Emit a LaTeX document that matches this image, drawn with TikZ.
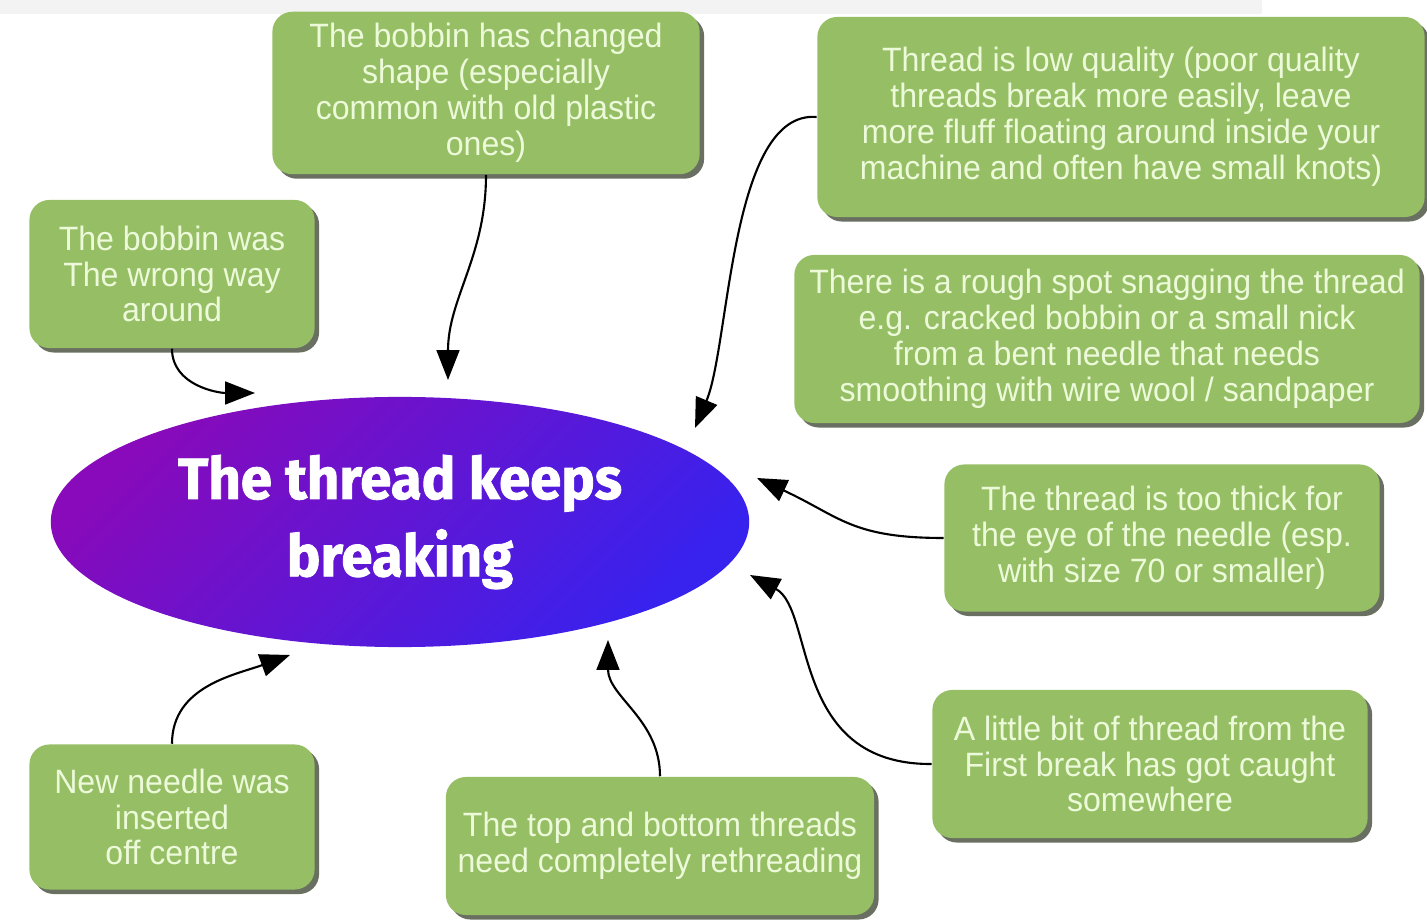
\documentclass[tikz,border=0pt]{standalone}
\usepackage{fontspec}
\setmainfont{Liberation Sans}
\newfontfamily\boxfont[FakeStretch=0.95]{Liberation Sans}
\newfontfamily\hubfont[FakeStretch=0.97,BoldFeatures={FakeStretch=0.97,FakeBold=1.5}]{Fira Sans}
\usetikzlibrary{arrows.meta,shadows,shapes.geometric}
\definecolor{boxgreen}{RGB}{150,190,100}
\definecolor{boxtext}{RGB}{236,250,218}
\definecolor{shadowgray}{RGB}{105,112,98}
\definecolor{bandgray}{RGB}{243,243,243}
\definecolor{hubpurple}{RGB}{136,10,186}
\definecolor{hubblue}{RGB}{56,34,238}
\begin{document}
\begin{tikzpicture}[x=0.01cm,y=-0.01cm,
    cause/.style={fill=boxgreen, rounded corners=0.2cm, align=center, text=boxtext,
      font=\boxfont\fontsize{9.6}{10.2}\selectfont,
      drop shadow={shadow xshift=0.045cm, shadow yshift=-0.045cm, fill=shadowgray, opacity=1}},
    link/.style={-{Triangle[length=8.5pt,width=6.5pt]}, line width=0.6pt}]
    \useasboundingbox (0,0) rectangle (1427,922);
    \fill[bandgray] (0,0) rectangle (1262,14);

    \node[ellipse, minimum width=6.98cm, minimum height=2.5cm, top color=hubpurple, bottom color=hubblue, shading angle=45,
      text=white, align=center, font=\hubfont\bfseries\fontsize{16.5}{22}\selectfont] (hub) at (400,522) {The thread keeps\\breaking};

    \node[cause, minimum width=4.27cm, minimum height=1.58cm] (shape) at (486,93) {The bobbin has changed\\shape (especially\\common with old plastic\\ones)};
    \node[cause, minimum width=2.85cm, minimum height=1.48cm] (wrongway) at (172,274) {The bobbin was\\The wrong way\\around};
    \node[cause, minimum width=6.07cm, minimum height=2cm] (lowq) at (1121,117) {Thread is low quality (poor quality\\threads break more easily, leave\\more fluff floating around inside your\\machine and often have small knots)};
    \node[cause, minimum width=6.25cm, minimum height=1.68cm] (rough) at (1107,339) {There is a rough spot snagging the thread\\e.g. cracked bobbin or a small nick\\from a bent needle that needs\\smoothing with wire wool / sandpaper};
    \node[cause, minimum width=4.35cm, minimum height=1.47cm] (thick) at (1162,538) {The thread is too thick for\\the eye of the needle (esp.\\with size 70 or smaller)};
    \node[cause, minimum width=4.35cm, minimum height=1.48cm] (bit) at (1150,764) {A little bit of thread from the\\First break has got caught\\somewhere};
    \node[cause, minimum width=4.26cm, minimum height=1.38cm] (rethread) at (660,846) {The top and bottom threads\\need completely rethreading};
    \node[cause, minimum width=2.85cm, minimum height=1.45cm] (needle) at (172,817) {New needle was\\inserted\\off centre};

    \coordinate (t1) at (255,393);
    \coordinate (t2) at (448,380);
    \coordinate (t3) at (695,428);
    \coordinate (t4) at (757,478);
    \coordinate (t5) at (750,575);
    \coordinate (t6) at (608,640);
    \coordinate (t7) at (290,655);

    \draw[link] (wrongway.south) to[out=-90,in=180] (t1);
    \draw[link] (shape.south) to[out=-90,in=90] (t2);
    \draw[link] (lowq.west) .. controls (730,110) and (730,345) .. (t3);
    \draw[link] (thick.west) to[out=180,in=-25,looseness=1.2] (t4);
    \draw[link] (bit.west) .. controls (790,765) and (815,610) .. (t5);
    \draw[link] (rethread.north) to[out=90,in=-90] (t6);
    \draw[link] (needle.north) to[out=90,in=200] (t7);
\end{tikzpicture}
\end{document}
